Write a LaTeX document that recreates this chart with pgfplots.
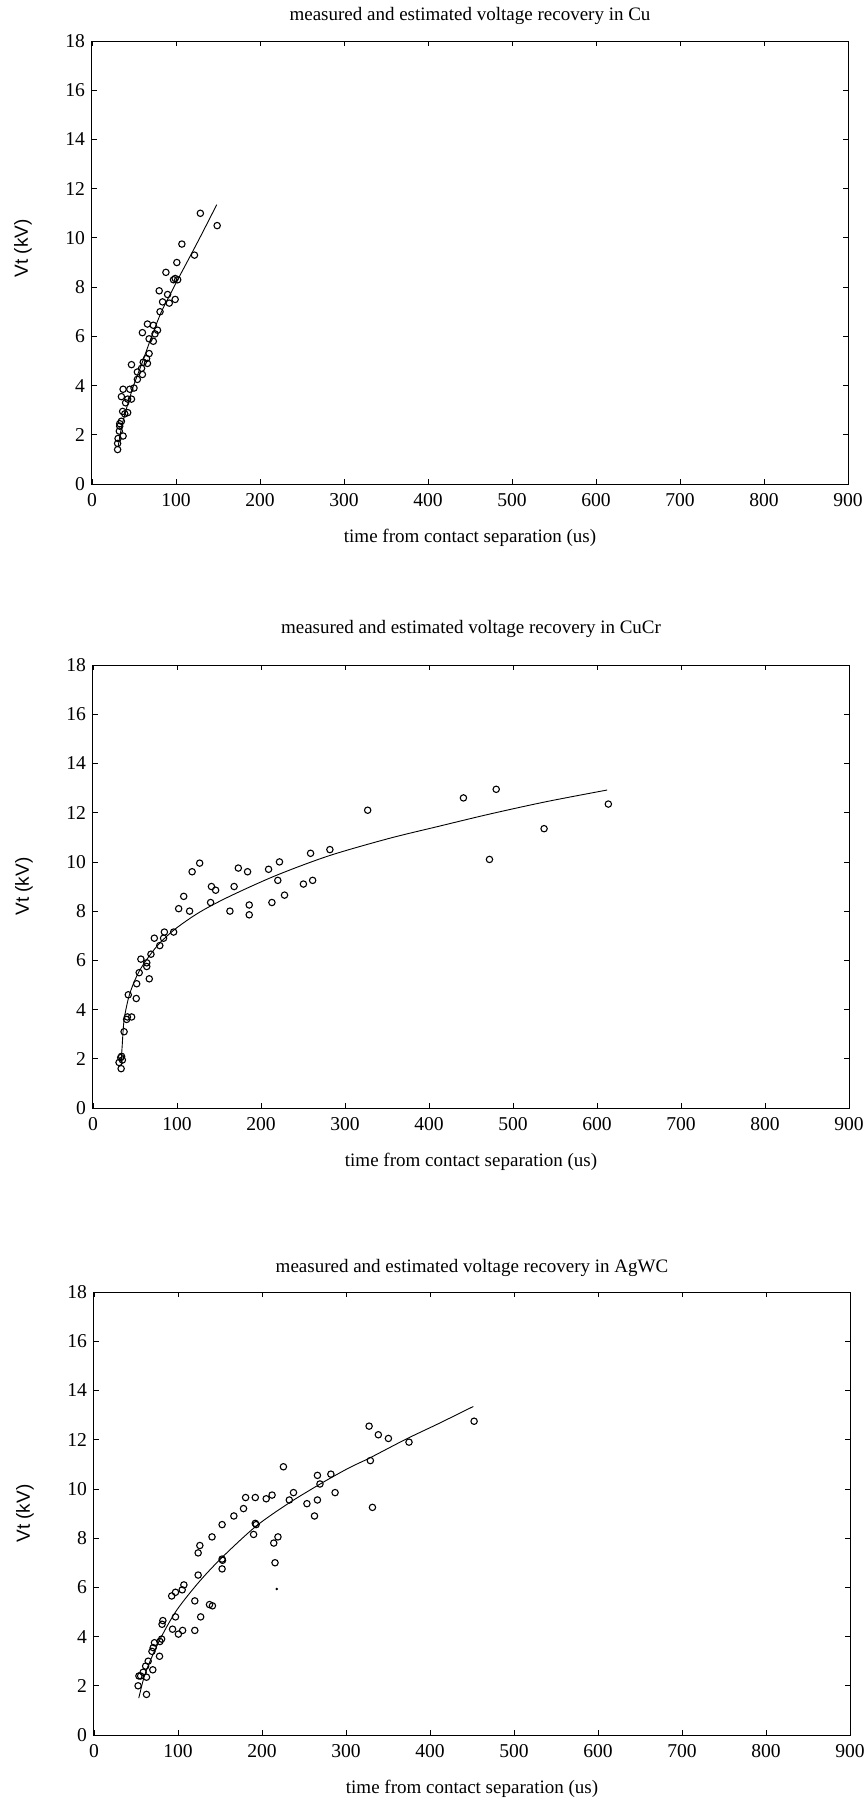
\documentclass[border=0pt]{standalone}
\usepackage{fontspec}
\setmainfont{Liberation Serif}
\setsansfont{Liberation Sans}
\usepackage{pgfplots}
\pgfplotsset{compat=1.18}

\pgfplotsset{
  vr/.style={
    scale only axis, width=378pt, height=221.5pt,
    xmin=0, xmax=900, ymin=0, ymax=18,
    xtick={0,100,...,900}, ytick={0,2,...,18},
    tick align=inside, major tick length=2.5pt,
    axis line style={line width=0.5pt},
    every tick/.style={black, line width=0.4pt},
    /pgf/number format/assume math mode=true,
    tick label style={font=\fontsize{9.8}{11}\selectfont},
    xticklabel style={anchor=center, yshift=-8pt},
    xlabel={time from contact separation (us)},
    ylabel={Vt (kV)},
    every axis x label/.style={at={(axis description cs:0.5,0)}, anchor=center,
      yshift=-27pt, font=\fontsize{9.5}{11}\selectfont},
    every axis y label/.style={at={(axis description cs:0,0.5)}, rotate=90,
      anchor=center, yshift=34.5pt, font=\sffamily\fontsize{9.5}{11}\selectfont},
    every axis title/.style={at={(axis description cs:0.5,1)}, anchor=center,
      font=\fontsize{9.5}{11}\selectfont},
  },
  meas/.style={only marks, mark=o, mark size=1.6pt, black,
    mark options={line width=0.55pt}},
  fit/.style={no marks, black, line width=0.45pt, smooth, tension=0.5},
}

\begin{document}
\begin{tikzpicture}
\useasboundingbox (0,0) rectangle (432.5pt,-902.5pt);

% Cu
\begin{axis}[vr, at={(46pt,-242pt)}, anchor=south west,
  title={measured and estimated voltage recovery in Cu},
  title style={yshift=12.5pt}, ylabel style={xshift=7pt}]
\addplot[meas] coordinates {
(129,11.0)(149,10.5)(107,9.75)(122,9.3)(101,9.0)(88,8.6)(97,8.3)(102,8.3)(99,8.35)
(80,7.85)(90,7.7)(84,7.4)(92,7.35)(99,7.5)(81,7.0)(66,6.5)(73,6.45)(60,6.15)(78,6.25)
(75,6.1)(68,5.9)(73,5.8)(68,5.3)(65,5.1)(61,4.95)(66,4.9)(47,4.85)(59,4.7)(54,4.55)
(60,4.45)(54,4.25)(50,3.9)(37,3.85)(45,3.85)(35,3.55)(42.5,3.45)(47,3.45)(40,3.3)
(36.5,2.95)(42.5,2.9)(39,2.85)(35,2.55)(33,2.45)(33,2.35)(32.5,2.15)(37,1.95)(31,1.85)
(30.5,1.65)(30.5,1.4)
};
\addplot[fit] coordinates {
(31,1.5)(34,2.1)(37.3,2.6)(43,3.3)(49,3.95)(55,4.5)(61,5.05)(70,5.9)(82,6.95)(93,7.7)
(104,8.43)(116,9.2)(128,9.98)(140,10.78)(148.5,11.35)
};
\end{axis}

% CuCr
\begin{axis}[vr, at={(46.5pt,-554pt)}, anchor=south west,
  title={measured and estimated voltage recovery in CuCr},
  title style={yshift=18pt}]
\addplot[meas] coordinates {
(327,12.1)(282,10.5)(259,10.35)(261.5,9.25)(250.5,9.1)(222,10.0)(209,9.7)(220,9.25)
(228,8.65)(213,8.35)(173,9.75)(184,9.6)(168,9.0)(186,8.25)(186,7.85)(163,8.0)(141,9.0)
(146,8.85)(140,8.35)(127,9.95)(118,9.6)(108,8.6)(102,8.1)(115,8.0)(96,7.15)(85,7.15)
(84,6.9)(73,6.9)(79.5,6.6)(69,6.25)(57,6.05)(64,5.9)(64,5.75)(55,5.5)(67,5.25)(52,5.05)
(42,4.6)(51.5,4.45)(40,3.6)(46,3.7)(41,3.7)(37,3.1)(34,2.1)(31,1.85)(35,1.95)(33.5,1.6)
(33,2.05)(441,12.6)(480,12.95)(613.5,12.35)(537,11.35)(472,10.1)
};
\addplot[fit] coordinates {
(33.5,1.85)(34.7,2.5)(37.1,3.6)(43.8,4.65)(55.7,5.6)(75.5,6.55)(97,7.25)(126.6,7.95)
(162.6,8.6)(218,9.45)(281,10.25)(352,10.95)(412,11.45)(473,11.95)(540,12.45)(612,12.92)
};
\end{axis}

% AgWC
\begin{axis}[vr, at={(47pt,-867.5pt)}, anchor=south west,
  title={measured and estimated voltage recovery in AgWC},
  title style={yshift=12pt}]
\addplot[meas] coordinates {
(225.5,10.9)(266,10.55)(282,10.6)(269,10.2)(287,9.85)(237.5,9.85)(232.5,9.55)(253.5,9.4)
(266,9.55)(262.5,8.9)(212,9.75)(205,9.6)(192,9.65)(180.5,9.65)(178,9.2)(166.5,8.9)
(152.5,8.55)(192,8.6)(193,8.55)(190,8.15)(219,8.05)(214,7.8)(215.5,7.0)(140.5,8.05)
(126,7.7)(124,7.4)(152.5,7.15)(153,7.1)(152.5,6.75)(124,6.5)(107,6.1)(105,5.9)(97,5.8)
(92.5,5.65)(120,5.45)(137.5,5.3)(141,5.25)(127,4.8)(97,4.8)(82,4.65)(81,4.5)(93.5,4.3)
(105.5,4.25)(100.5,4.1)(120,4.25)(80.5,3.9)(78.5,3.8)(72,3.75)(70.5,3.55)(69,3.4)
(78,3.2)(64.5,3.0)(61.5,2.8)(70,2.65)(58.5,2.55)(55.5,2.4)(62.5,2.35)(53.5,2.4)
(52.5,2.0)(62.5,1.65)(452.5,12.75)(327.5,12.55)(338.5,12.2)(350.5,12.05)(375,11.9)
(329,11.15)(331.5,9.25)
};
\addplot[only marks, mark=*, mark size=0.4pt, black] coordinates {(217.6,5.93)};
\addplot[fit] coordinates {
(53.3,1.5)(60,2.4)(68,3.1)(80.3,4.0)(98.8,5.09)(125.8,6.25)(153.5,7.25)(193.1,8.49)
(232.7,9.44)(272.3,10.26)(303.9,10.86)(327.8,11.25)(371.3,12.02)(410,12.65)(451.6,13.35)
};
\end{axis}
\end{tikzpicture}
\end{document}
